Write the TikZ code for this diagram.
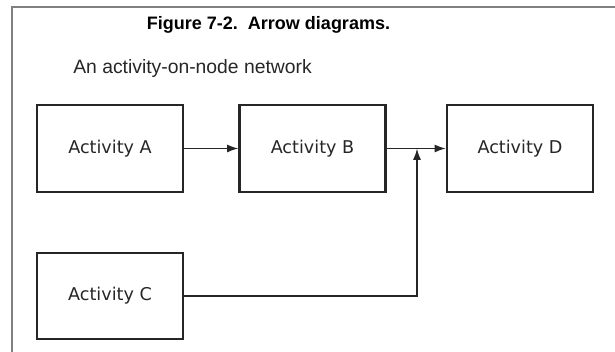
\documentclass[tikz,border=0pt]{standalone}
\usepackage{fontspec}
\setmainfont{Liberation Sans}
\newfontfamily\boxfont{DejaVu Sans}
\usepackage{tikz}
\usetikzlibrary{arrows.meta, positioning}
\usepackage{xcolor}

\begin{document}
\begin{tikzpicture}[
    x=0.75pt, y=-0.75pt,
    activity/.style = {rectangle, draw=black!85, line width=1.6pt, minimum width=109.5pt, minimum height=65pt, inner sep=0pt, align=center, font=\boxfont\fontsize{13.2}{16}\selectfont, text=black!85},
    arrow/.style = {draw=black!85, line width=1.2pt, -{Latex[length=8.5pt,width=6pt]}}
]
\useasboundingbox (0,0) rectangle (615,352);
\draw [black!50, line width=1.5pt] (12,352) -- (12,7) -- (615,7);

\node (title) [anchor=base, font=\bfseries\fontsize{13.5}{16}\selectfont] at (268.5,30) {Figure 7-2.\ \ Arrow diagrams.};
\node (sub) [anchor=base west, inner sep=0pt, font=\fontsize{14.5}{17}\selectfont, text=black!85] at (73,74) {An activity-on-node network};

\node (a) [activity] at (110,148.5) {Activity A};
\node (b) [activity] at (312.5,148.5) {Activity B};
\node (d) [activity] at (520,148.5) {Activity D};
\node (c) [activity] at (110,296) {Activity C};

\coordinate (merge) at (417,148.5);

\draw [arrow] (a) -- (b);
\draw [arrow] (b) -- (d);
\draw [arrow] (c.east) -| (merge);
\end{tikzpicture}
\end{document}
